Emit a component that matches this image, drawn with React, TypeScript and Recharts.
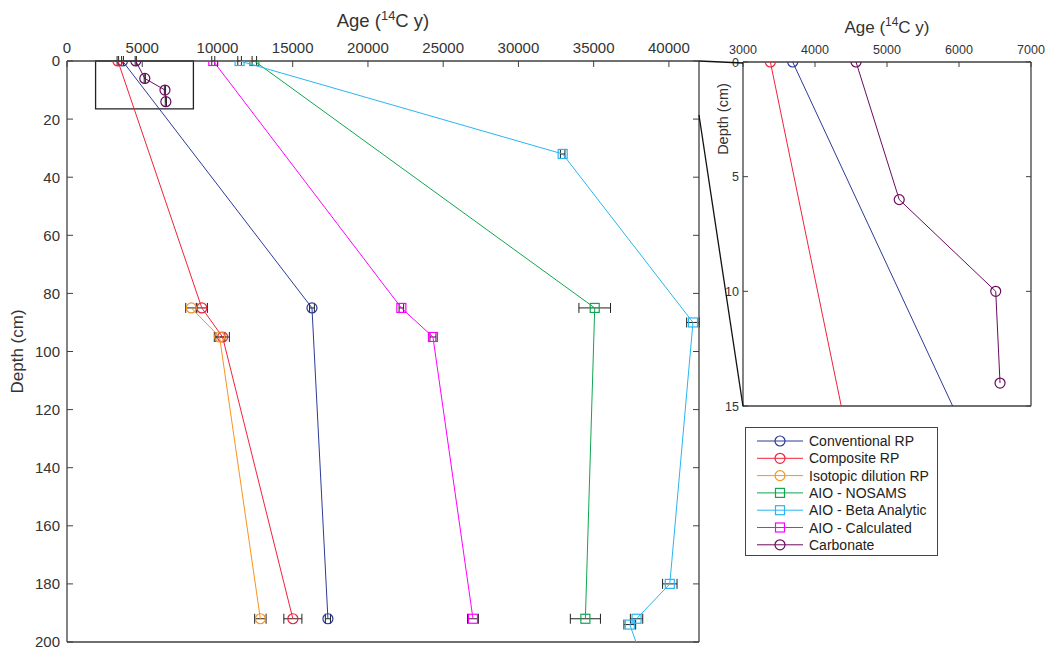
import React from 'react';
import { ScatterChart, Scatter, XAxis, YAxis, ErrorBar, ReferenceArea } from 'recharts';

const FONT = '"Liberation Sans", Arial, Helvetica, sans-serif';
const AXIS = '#404040';
const TEXT = '#333333';

const ageTicks = [0, 5000, 10000, 15000, 20000, 25000, 30000, 35000, 40000];
const depthTicks = [0, 20, 40, 60, 80, 100, 120, 140, 160, 180, 200];
const insetAgeTicks = [3000, 4000, 5000, 6000, 7000];
const insetDepthTicks = [0, 5, 10, 15];

// age (14C y), depth (cm), age error (+/-)
const conventionalRP = [
  { age: 3690, depth: 0, err: 60 },
  { age: 16280, depth: 85, err: 160 },
  { age: 17340, depth: 192, err: 170 },
];
const compositeRP = [
  { age: 3380, depth: 0, err: 50 },
  { age: 8960, depth: 85, err: 370 },
  { age: 10340, depth: 95, err: 450 },
  { age: 15010, depth: 192, err: 600 },
];
const isotopicDilutionRP = [
  { age: 8260, depth: 85, err: 370 },
  { age: 10140, depth: 95, err: 350 },
  { age: 12850, depth: 192, err: 380 },
];
const aioNosams = [
  { age: 12450, depth: 0, err: 150 },
  { age: 35070, depth: 85, err: 1050 },
  { age: 34450, depth: 192, err: 1000 },
];
const aioBeta = [
  { age: 11470, depth: 0, err: 120 },
  { age: 32940, depth: 32, err: 150 },
  { age: 41600, depth: 90, err: 420 },
  { age: 40060, depth: 180, err: 480 },
  { age: 37850, depth: 192, err: 410 },
  { age: 37400, depth: 194, err: 390 },
  { age: 38300, depth: 207, err: 400 },
];
const aioCalculated = [
  { age: 9720, depth: 0, err: 100 },
  { age: 22220, depth: 85, err: 150 },
  { age: 24320, depth: 95, err: 200 },
  { age: 26980, depth: 192, err: 360 },
];
const carbonate = [
  { age: 4570, depth: 0, err: 40 },
  { age: 5170, depth: 6, err: 40 },
  { age: 6510, depth: 10, err: 40 },
  { age: 6570, depth: 14, err: 40 },
];

const series = [
  { name: 'Conventional RP', data: conventionalRP, color: '#2b3b97', marker: 'circle' },
  { name: 'Composite RP', data: compositeRP, color: '#f2213b', marker: 'circle' },
  { name: 'Isotopic dilution RP', data: isotopicDilutionRP, color: '#f7941d', marker: 'circle' },
  { name: 'AIO - NOSAMS', data: aioNosams, color: '#10a650', marker: 'square' },
  { name: 'AIO - Beta Analytic', data: aioBeta, color: '#2ab5f0', marker: 'square' },
  { name: 'AIO - Calculated', data: aioCalculated, color: '#ff00ff', marker: 'square' },
  { name: 'Carbonate', data: carbonate, color: '#6b0b5e', marker: 'circle' },
];

const Marker = ({ kind, color, x, y }: any) =>
  kind === 'circle' ? (
    <circle cx={x} cy={y} r={5} fill="none" stroke={color} strokeWidth={1.2} />
  ) : (
    <rect x={x - 4.5} y={y - 4.5} width={9} height={9} fill="none" stroke={color} strokeWidth={1.2} />
  );

const shapeFor = (kind: string, color: string) => (p: any) =>
  p.cx == null ? <g /> : <Marker kind={kind} color={color} x={p.cx} y={p.cy} />;

const topTick = (fs: number, gap: number, len: number) => (p: any) => (
  <g>
    <text x={p.x} y={p.y} textAnchor="middle" fontSize={fs} fill={TEXT} fontFamily={FONT}>
      {p.payload.value}
    </text>
    <line x1={p.x} x2={p.x} y1={p.y + gap} y2={p.y + gap + len} stroke={AXIS} />
  </g>
);
const leftTick = (fs: number, gap: number, len: number) => (p: any) => (
  <g>
    <text x={p.x} y={p.y + fs * 0.36} textAnchor="end" fontSize={fs} fill={TEXT} fontFamily={FONT}>
      {p.payload.value}
    </text>
    <line x1={p.x + gap} x2={p.x + gap + len} y1={p.y} y2={p.y} stroke={AXIS} />
  </g>
);
const bottomTick = (len: number) => (p: any) => (
  <line x1={p.x} x2={p.x} y1={p.y} y2={p.y - len} stroke={AXIS} />
);
const rightTick = (len: number) => (p: any) => (
  <line x1={p.x} x2={p.x - len} y1={p.y} y2={p.y} stroke={AXIS} />
);

const ageLabel = (fs: number, dy: number) => (p: any) => {
  const vb = p.viewBox || { x: 0, y: 0, width: 0 };
  return (
    <text x={vb.x + vb.width / 2} y={vb.y + dy} textAnchor="middle" fontSize={fs} fill={TEXT} fontFamily={FONT}>
      Age (
      <tspan dy={-fs * 0.4} fontSize={fs * 0.7}>14</tspan>
      <tspan dy={fs * 0.4}>C y)</tspan>
    </text>
  );
};
const depthLabel = (fs: number, dx: number, cy?: number) => (p: any) => {
  const vb = p.viewBox || { x: 0, y: 0, height: 0 };
  const x = vb.x + dx;
  const y = cy == null ? vb.y + vb.height / 2 : vb.y + cy;
  return (
    <text x={x} y={y} transform={`rotate(-90 ${x} ${y})`} textAnchor="middle" fontSize={fs} fill={TEXT} fontFamily={FONT}>
      Depth (cm)
    </text>
  );
};

const axisLine = { stroke: AXIS, strokeWidth: 1.3 };

const MainChart = () => (
  <ScatterChart width={705} height={647} margin={{ top: 31, right: 5, bottom: 4, left: 17 }}>
    <XAxis
      type="number"
      dataKey="age"
      orientation="top"
      domain={[0, 42000]}
      ticks={ageTicks}
      interval={0}
      allowDataOverflow
      height={30}
      tickSize={0}
      tickMargin={8}
      axisLine={axisLine}
      tick={topTick(15, 8, 6)}
      label={ageLabel(18.5, -4)}
    />
    <XAxis
      xAxisId="b"
      type="number"
      orientation="bottom"
      domain={[0, 42000]}
      ticks={ageTicks}
      interval={0}
      allowDataOverflow
      height={1}
      tickSize={0}
      tickMargin={0}
      axisLine={axisLine}
      tick={bottomTick(6)}
    />
    <YAxis
      type="number"
      dataKey="depth"
      reversed
      domain={[0, 200]}
      ticks={depthTicks}
      interval={0}
      allowDataOverflow
      width={50}
      tickSize={0}
      tickMargin={7}
      axisLine={axisLine}
      tick={leftTick(15, 7, 6)}
      label={depthLabel(17, 6)}
    />
    <YAxis
      yAxisId="r"
      type="number"
      orientation="right"
      reversed
      domain={[0, 200]}
      ticks={depthTicks}
      interval={0}
      allowDataOverflow
      width={1}
      tickSize={0}
      tickMargin={0}
      axisLine={axisLine}
      tick={rightTick(6)}
    />
    <ReferenceArea x1={1900} x2={8400} y1={0} y2={16.5} fill="none" stroke="#222" strokeWidth={1.3} />
    {series.map((s) => (
      <Scatter
        key={s.name}
        name={s.name}
        data={s.data}
        stroke={s.color}
        fill="none"
        line={{ stroke: s.color, strokeWidth: 1 }}
        shape={shapeFor(s.marker, s.color)}
        isAnimationActive={false}
      >
        <ErrorBar dataKey="err" direction="x" width={5} stroke="#222" strokeWidth={1} isAnimationActive={false} />
      </Scatter>
    ))}
  </ScatterChart>
);

const InsetChart = () => (
  <ScatterChart width={345} height={420} margin={{ top: 32, right: 13, bottom: 13, left: 13 }}>
    <XAxis
      type="number"
      dataKey="age"
      orientation="top"
      domain={[3000, 7000]}
      ticks={insetAgeTicks}
      interval={0}
      allowDataOverflow
      height={30}
      tickSize={0}
      tickMargin={8.5}
      axisLine={axisLine}
      tick={topTick(12.5, 8.5, 5)}
      label={ageLabel(17, 1)}
    />
    <XAxis
      xAxisId="b"
      type="number"
      orientation="bottom"
      domain={[3000, 7000]}
      ticks={insetAgeTicks}
      interval={0}
      allowDataOverflow
      height={1}
      tickSize={0}
      tickMargin={0}
      axisLine={axisLine}
      tick={bottomTick(5)}
    />
    <YAxis
      type="number"
      dataKey="depth"
      reversed
      domain={[0, 15]}
      ticks={insetDepthTicks}
      interval={0}
      allowDataOverflow
      width={30}
      tickSize={0}
      tickMargin={4}
      axisLine={axisLine}
      tick={leftTick(12.5, 4, 5)}
      label={depthLabel(14.5, 15, 57)}
    />
    <YAxis
      yAxisId="r"
      type="number"
      orientation="right"
      reversed
      domain={[0, 15]}
      ticks={insetDepthTicks}
      interval={0}
      allowDataOverflow
      width={1}
      tickSize={0}
      tickMargin={0}
      axisLine={axisLine}
      tick={rightTick(5)}
    />
    {series.map((s) => (
      <Scatter
        key={s.name}
        name={s.name}
        data={s.data}
        stroke={s.color}
        fill="none"
        line={{ stroke: s.color, strokeWidth: 1 }}
        shape={shapeFor(s.marker, s.color)}
        isAnimationActive={false}
      />
    ))}
  </ScatterChart>
);

const LegendBox = () => (
  <div
    style={{
      position: 'absolute',
      left: 745,
      top: 427,
      width: 191,
      height: 127,
      border: '1px solid #444',
      background: '#fff',
    }}
  >
    <svg width={191} height={127}>
      {series.map((s, i) => {
        const y = 13 + i * 17.3;
        return (
          <g key={s.name}>
            <line x1={11} x2={57} y1={y} y2={y} stroke={s.color} strokeWidth={1} />
            <Marker kind={s.marker} color={s.color} x={34} y={y} />
            <text x={63} y={y + 5} fontSize={14} fill="#222" fontFamily={FONT}>
              {s.name}
            </text>
          </g>
        );
      })}
    </svg>
  </div>
);

export default function App() {
  return (
    <div style={{ position: 'absolute', left: 0, top: 0, width: 1045, height: 647, background: '#fff', fontFamily: FONT }}>
      <div style={{ position: 'absolute', left: 0, top: 0 }}>
        <MainChart />
      </div>
      <div style={{ position: 'absolute', left: 700, top: 0 }}>
        <InsetChart />
      </div>
      <svg width={1045} height={647} style={{ position: 'absolute', left: 0, top: 0, pointerEvents: 'none' }}>
        <line x1={699} y1={61} x2={743} y2={63} stroke="#111" strokeWidth={1.3} />
        <line x1={699} y1={115} x2={743} y2={406.5} stroke="#111" strokeWidth={1.3} />
      </svg>
      <LegendBox />
    </div>
  );
}
